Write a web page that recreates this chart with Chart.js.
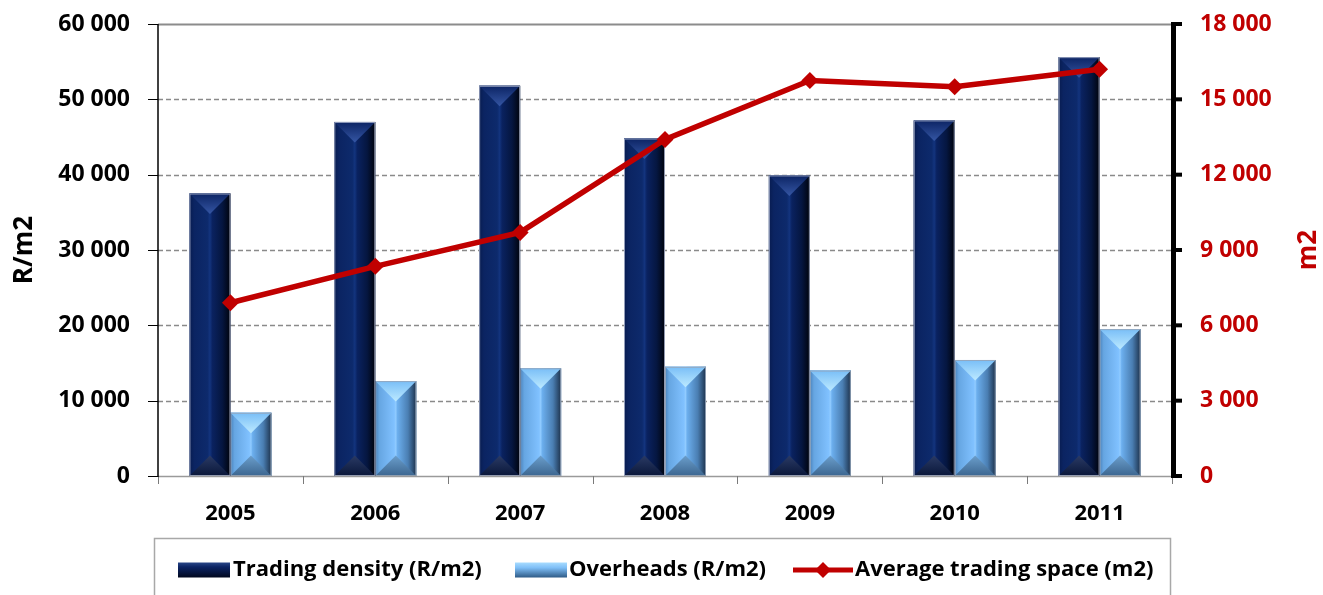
<!DOCTYPE html>
<html>
<head>
<meta charset="utf-8">
<script src="https://cdn.jsdelivr.net/npm/chart.js@4.4.0/dist/chart.umd.min.js"></script>
<style>
  html, body { margin: 0; padding: 0; background: #ffffff; }
  #wrap { width: 1323px; height: 595px; position: relative; }
</style>
</head>
<body>
<div id="wrap"><canvas id="chart"></canvas></div>
<script>
// Categories and series
const years = ['2005', '2006', '2007', '2008', '2009', '2010', '2011'];
const tradingDensity = [37500, 47000, 51800, 44800, 39900, 47200, 55600];   // R/m2, left axis
const overheads = [8400, 12600, 14300, 14500, 14000, 15400, 19500];          // R/m2, left axis
const avgTradingSpace = [6900, 8350, 9700, 13400, 15750, 15500, 16200];      // m2, right axis

// Axis ranges and tick steps
const leftMax = 60000, leftStep = 10000;
const rightMax = 18000, rightStep = 3000;

// Legend / axis texts
const seriesNames = ['Trading density (R/m2)', 'Overheads (R/m2)', 'Average trading space (m2)'];
const leftTitle = 'R/m2';
const rightTitle = 'm2';

const FONT = "'Open Sans', 'Liberation Sans', sans-serif";
const RED = '#C00000';

const fmt = v => String(v).replace(/\B(?=(\d{3})+(?!\d))/g, ' ');

const palettes = {
  dark: {
    side: [[0, '#081c50'], [0.12, '#0b2462'], [0.44, '#0d2a6c'], [0.5, '#13347e'], [0.56, '#0a2260'], [0.8, '#051640'], [1, '#00030c']],
    top: ['#0c2464', '#3556a4'],
    bottom: ['#0a173a', '#2a3a64'],
    edge: 'rgba(170,180,205,0.85)'
  },
  light: {
    side: [[0, '#4a82bb'], [0.1, '#66a6e2'], [0.46, '#80c1ff'], [0.5, '#90cbff'], [0.54, '#6cafee'], [0.8, '#4a7eb2'], [1, '#1d324c']],
    top: ['#79bef7', '#bdeaff'],
    bottom: ['#3c6690', '#6b9ecb'],
    edge: 'rgba(150,165,185,0.9)'
  }
};

// Bevelled bar face: side gradient, top and bottom triangles
function drawBevel(ctx, l, r, t, b, pal) {
  const w = r - l, h = b - t;
  if (h <= 0 || w <= 0) return;
  const d = Math.min(w / 2, h / 2);
  const cx = l + w / 2;
  ctx.save();
  let g = ctx.createLinearGradient(l, 0, r, 0);
  pal.side.forEach(([o, c]) => g.addColorStop(o, c));
  ctx.fillStyle = g;
  ctx.fillRect(l, t, w, h);

  g = ctx.createLinearGradient(0, t, 0, t + d);
  g.addColorStop(0, pal.top[0]);
  g.addColorStop(1, pal.top[1]);
  ctx.fillStyle = g;
  ctx.beginPath();
  ctx.moveTo(l, t); ctx.lineTo(r, t); ctx.lineTo(cx, t + d); ctx.closePath();
  ctx.fill();

  g = ctx.createLinearGradient(0, b, 0, b - d);
  g.addColorStop(0, pal.bottom[0]);
  g.addColorStop(1, pal.bottom[1]);
  ctx.fillStyle = g;
  ctx.beginPath();
  ctx.moveTo(l, b); ctx.lineTo(r, b); ctx.lineTo(cx, b - d); ctx.closePath();
  ctx.fill();

  ctx.strokeStyle = pal.edge;
  ctx.lineWidth = 1;
  ctx.strokeRect(l + 0.5, t + 0.5, w - 1, h - 1);
  ctx.restore();
}

const decorPlugin = {
  id: 'decor',
  beforeDatasetsDraw(chart) {
    const ctx = chart.ctx;
    const { left, right } = chart.chartArea;
    const ys = chart.scales.y;
    ctx.save();
    for (let v = leftStep; v <= leftMax; v += leftStep) {
      const py = Math.round(ys.getPixelForValue(v)) + 0.5;
      ctx.beginPath();
      if (v === leftMax) {
        ctx.setLineDash([]);
        ctx.strokeStyle = '#8c8c8c';
        ctx.lineWidth = 2;
      } else {
        ctx.setLineDash([5, 3]);
        ctx.strokeStyle = '#8a8a8a';
        ctx.lineWidth = 1.5;
      }
      ctx.moveTo(left, py);
      ctx.lineTo(right, py);
      ctx.stroke();
    }
    ctx.restore();
  },
  afterDatasetDraw(chart, args) {
    const ds = chart.data.datasets[args.index];
    if (ds.type !== 'bar') return;
    const pal = palettes[ds.bevel];
    const ctx = chart.ctx;
    args.meta.data.forEach(el => {
      const l = el.x - el.width / 2, r = el.x + el.width / 2;
      drawBevel(ctx, l, r, el.y, el.base, pal);
    });
  },
  afterDraw(chart) {
    const ctx = chart.ctx;
    const { left, right, top, bottom } = chart.chartArea;
    const xs = chart.scales.x, ys = chart.scales.y, y1 = chart.scales.y1;
    ctx.save();

    // category axis
    ctx.strokeStyle = '#9a9a9a';
    ctx.lineWidth = 1.5;
    ctx.beginPath();
    ctx.moveTo(left, bottom + 0.5);
    ctx.lineTo(right, bottom + 0.5);
    ctx.stroke();
    const half = (xs.getPixelForValue(1) - xs.getPixelForValue(0)) / 2;
    ctx.lineWidth = 1;
    ctx.strokeStyle = '#7a7a7a';
    for (let i = 0; i <= years.length; i++) {
      const px = Math.round(xs.getPixelForValue(0) - half + i * 2 * half) + 0.5;
      ctx.beginPath();
      ctx.moveTo(px, bottom);
      ctx.lineTo(px, bottom + 8);
      ctx.stroke();
    }

    // left value axis
    ctx.strokeStyle = '#000000';
    ctx.lineWidth = 1.5;
    ctx.beginPath();
    ctx.moveTo(left, top);
    ctx.lineTo(left, bottom + 1);
    ctx.stroke();
    ctx.lineWidth = 1;
    for (let v = 0; v <= leftMax; v += leftStep) {
      const py = Math.round(ys.getPixelForValue(v)) + 0.5;
      ctx.beginPath();
      ctx.moveTo(left - 10, py);
      ctx.lineTo(left, py);
      ctx.stroke();
    }

    // right value axis
    ctx.lineWidth = 5;
    ctx.beginPath();
    ctx.moveTo(right + 1.5, top - 2);
    ctx.lineTo(right + 1.5, bottom + 2);
    ctx.stroke();
    ctx.lineWidth = 4;
    for (let v = 0; v <= rightMax; v += rightStep) {
      const py = y1.getPixelForValue(v);
      ctx.beginPath();
      ctx.moveTo(right, py);
      ctx.lineTo(right + 10, py);
      ctx.stroke();
    }

    // axis titles
    ctx.font = `bold 26px ${FONT}`;
    ctx.textAlign = 'center';
    ctx.textBaseline = 'middle';
    const midY = (top + bottom) / 2;
    ctx.save();
    ctx.translate(25, midY);
    ctx.rotate(-Math.PI / 2);
    ctx.fillStyle = '#000000';
    ctx.fillText(leftTitle, 0, 0);
    ctx.restore();
    ctx.save();
    ctx.translate(1309, midY);
    ctx.rotate(-Math.PI / 2);
    ctx.fillStyle = RED;
    ctx.fillText(rightTitle, 0, 0);
    ctx.restore();

    // legend
    ctx.strokeStyle = '#a8a8a8';
    ctx.lineWidth = 1.5;
    ctx.strokeRect(154.5, 538.5, 1016, 80);
    const ly = 570;
    const sw = 52, sh = 15;
    let g = ctx.createLinearGradient(0, ly - sh / 2, 0, ly + sh / 2);
    g.addColorStop(0, '#2a4788'); g.addColorStop(0.3, '#0c2464'); g.addColorStop(1, '#01081e');
    ctx.fillStyle = g;
    ctx.fillRect(178, ly - sh / 2, sw, sh);
    g = ctx.createLinearGradient(0, ly - sh / 2, 0, ly + sh / 2);
    g.addColorStop(0, '#a8dcff'); g.addColorStop(0.35, '#7fbff7'); g.addColorStop(1, '#2e5a86');
    ctx.fillStyle = g;
    ctx.fillRect(515, ly - sh / 2, sw, sh);
    ctx.strokeStyle = RED;
    ctx.lineWidth = 5;
    ctx.beginPath();
    ctx.moveTo(793, ly); ctx.lineTo(853, ly);
    ctx.stroke();
    ctx.fillStyle = RED;
    ctx.beginPath();
    ctx.moveTo(823, ly - 8); ctx.lineTo(831, ly); ctx.lineTo(823, ly + 8); ctx.lineTo(815, ly);
    ctx.closePath();
    ctx.fill();

    ctx.fillStyle = '#000000';
    ctx.font = `bold 22px ${FONT}`;
    ctx.textAlign = 'left';
    ctx.textBaseline = 'middle';
    ctx.fillText(seriesNames[0], 233, ly);
    ctx.fillText(seriesNames[1], 569, ly);
    ctx.fillText(seriesNames[2], 855, ly);

    ctx.restore();
  }
};

function fitVertical(width) {
  return s => { s.width = width; s.paddingTop = 0; s.paddingBottom = 0; };
}

new Chart(document.getElementById('chart'), {
  data: {
    labels: years,
    datasets: [
      {
        type: 'line',
        label: seriesNames[2],
        data: avgTradingSpace,
        yAxisID: 'y1',
        order: 0,
        borderColor: RED,
        backgroundColor: RED,
        borderWidth: 5.5,
        tension: 0,
        pointStyle: 'rectRot',
        pointRadius: 8.5,
        pointBorderWidth: 0,
        pointBackgroundColor: RED
      },
      {
        type: 'bar',
        label: seriesNames[0],
        data: tradingDensity,
        yAxisID: 'y',
        order: 1,
        bevel: 'dark',
        backgroundColor: '#0b2462',
        categoryPercentage: 0.566,
        barPercentage: 1.0
      },
      {
        type: 'bar',
        label: seriesNames[1],
        data: overheads,
        yAxisID: 'y',
        order: 2,
        bevel: 'light',
        backgroundColor: '#7fbff7',
        categoryPercentage: 0.566,
        barPercentage: 1.0
      }
    ]
  },
  options: {
    responsive: true,
    maintainAspectRatio: false,
    animation: false,
    layout: { padding: { top: 24, left: 0, right: 0, bottom: 0 } },
    plugins: {
      legend: { display: false },
      tooltip: { enabled: false }
    },
    scales: {
      x: {
        type: 'category',
        grid: { display: false, drawTicks: false },
        border: { display: false },
        ticks: { color: '#000000', font: { family: FONT, size: 22, weight: 'bold' }, padding: 25 },
        afterFit(s) { s.height = 119; s.paddingLeft = 0; s.paddingRight = 0; }
      },
      y: {
        position: 'left',
        min: 0, max: leftMax,
        grid: { display: false, drawTicks: false },
        border: { display: false },
        ticks: { stepSize: leftStep, color: '#000000', padding: 28, font: { family: FONT, size: 23, weight: 'bold' }, callback: v => fmt(v) },
        afterFit: fitVertical(158)
      },
      y1: {
        position: 'right',
        min: 0, max: rightMax,
        grid: { display: false, drawTicks: false },
        border: { display: false },
        ticks: { stepSize: rightStep, color: RED, padding: 28, font: { family: FONT, size: 23, weight: 'bold' }, callback: v => fmt(v) },
        afterFit: fitVertical(151)
      }
    }
  },
  plugins: [decorPlugin]
});
</script>
</body>
</html>
